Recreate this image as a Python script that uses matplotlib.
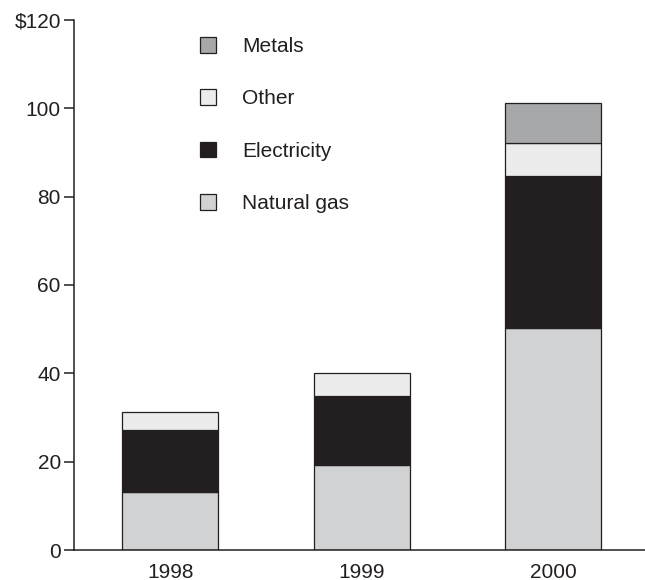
import numpy as np
import matplotlib
matplotlib.use('Agg')
import matplotlib.pyplot as plt

plt.rcParams['font.family'] = ['Liberation Sans', 'DejaVu Sans']

years = ['1998', '1999', '2000']
natural_gas = [13.1, 19.3, 50.3]
electricity = [14.1, 15.5, 34.3]
other = [4.0, 5.2, 7.5]
metals = [0.0, 0.0, 9.2]

yticks = [0, 20, 40, 60, 80, 100, 120]
ytick_labels = ['0', '20', '40', '60', '80', '100', '$120']

fig = plt.figure(figsize=(6.45, 5.8), dpi=100)
ax = fig.add_axes([74/645, 30/580, 1 - 74/645, 530/580])

x = np.arange(len(years))
edge = '#231f20'
w = 0.5
b1 = ax.bar(x, natural_gas, w, color='#d1d2d4', edgecolor=edge, linewidth=0.9, label='Natural gas')
bot = np.array(natural_gas)
b2 = ax.bar(x, electricity, w, bottom=bot, color='#231f20', edgecolor=edge, linewidth=0.9, label='Electricity')
bot = bot + np.array(electricity)
b3 = ax.bar(x, other, w, bottom=bot, color='#ececec', edgecolor=edge, linewidth=0.9, label='Other')
bot = bot + np.array(other)
# metals only exists for 2000
m = np.array(metals) > 0
b4 = ax.bar(x[m], np.array(metals)[m], w, bottom=bot[m], color='#a7a8aa', edgecolor=edge, linewidth=0.9, label='Metals')

ax.set_xlim(-0.503, 2.48)
ax.set_ylim(0, 120)
ax.set_yticks(yticks)
ax.set_yticklabels(ytick_labels)
ax.set_xticks(x)
ax.set_xticklabels(years)

for s in ['top', 'right']:
    ax.spines[s].set_visible(False)
for s in ['left', 'bottom']:
    ax.spines[s].set_linewidth(1.1)
    ax.spines[s].set_color(edge)

ax.tick_params(axis='y', length=7.5, width=1.1, color=edge, labelsize=15, pad=2, labelcolor='#231f20')
ax.tick_params(axis='x', length=0, labelsize=15, pad=9, labelcolor='#231f20')

leg = ax.legend(handles=[b4, b3, b2, b1], labels=['Metals', 'Other', 'Electricity', 'Natural gas'],
                loc='upper left', bbox_to_anchor=(200/645, 1 - 37/580), bbox_transform=fig.transFigure,
                frameon=False, fontsize=15, handlelength=0.77, handleheight=0.77,
                handletextpad=1.26, labelspacing=1.6, borderpad=0, borderaxespad=0)
for t in leg.get_texts():
    t.set_color('#231f20')

fig.savefig('out.png', dpi=100)
